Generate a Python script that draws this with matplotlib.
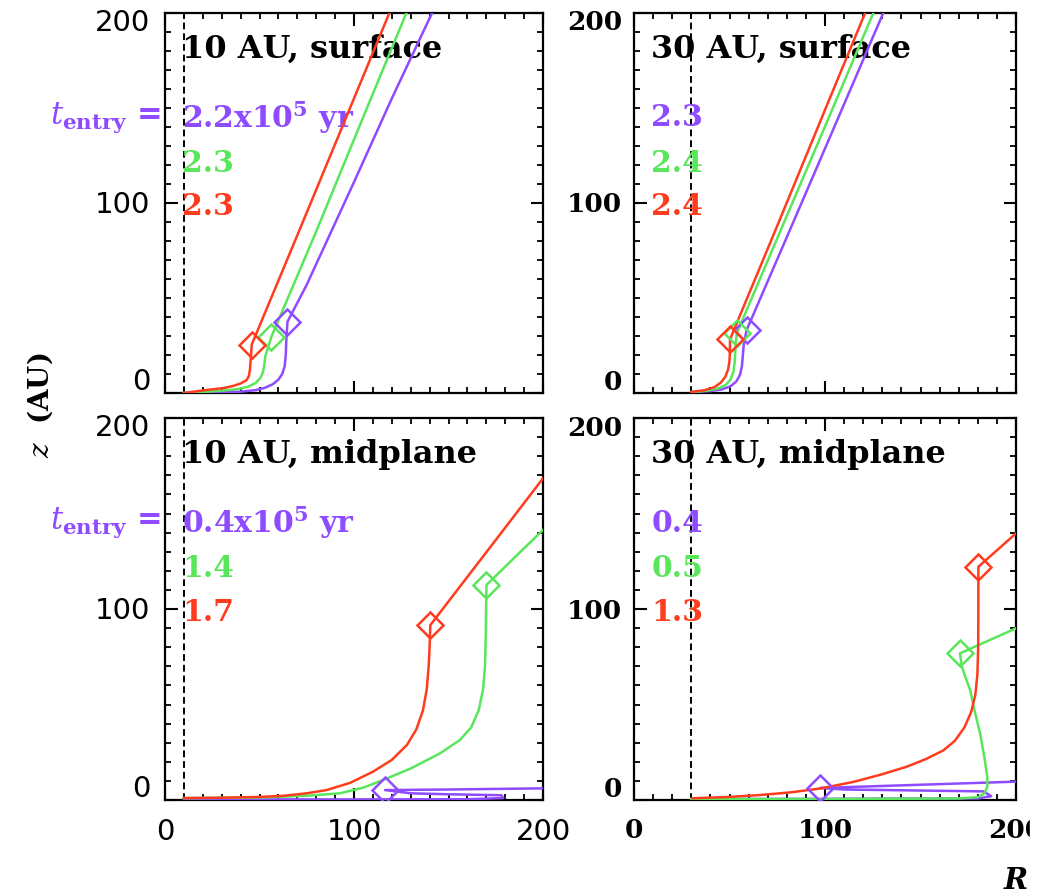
import matplotlib.pyplot as plt
from matplotlib.ticker import MultipleLocator
from matplotlib.transforms import ScaledTranslation, blended_transform_factory
from matplotlib.patches import Rectangle

plt.rcParams['mathtext.fontset'] = 'dejavuserif'

PURPLE = '#8f4bff'
GREEN = '#5ae65a'
RED = '#ff3c1e'

# ---- 10 AU, surface ----
p10s_disk_R = [10, 30, 40, 48, 53, 57, 60, 62, 63.3, 63.9, 64.2]
p10s_disk_z = [0, 0.3, 0.7, 1.5, 2.8, 4.6, 7, 10, 14, 20, 28]
p10s_env_R = [75, 100, 120, 141.3]
p10s_env_z = [57, 111, 155, 200]
g10s_disk_R = [10, 30, 38, 44, 48, 50.5, 51.8, 52.6, 53]
g10s_disk_z = [0, 1.2, 2, 3.3, 5.3, 8, 11, 15, 19]
g10s_env_R = [80, 105, 127.7]
g10s_env_z = [85, 145.5, 200]
r10s_disk_R = [10, 22, 31, 36, 40, 43.2, 44.4, 44.9, 45.3, 45.6]
r10s_disk_z = [0, 1.6, 2.6, 3.7, 5, 6.8, 9, 12, 17, 21]
r10s_env_R = [70, 95, 118.7]
r10s_env_z = [83, 143, 200]
entry10s_R = [64.8, 56.3, 45.9]
entry10s_z = [37.5, 29.6, 25.5]
t10s = ['2.2', '2.3', '2.3']

# ---- 30 AU, surface ----
p30s_disk_R = [30, 40, 46, 50.5, 53.5, 55.5, 56.5, 57, 57.5]
p30s_disk_z = [0.5, 1, 1.9, 3.5, 6, 9.5, 14, 20, 26]
p30s_env_R = [83, 107, 130.5]
p30s_env_z = [89, 145, 200]
g30s_disk_R = [30, 38, 44, 48, 50.5, 52, 52.7, 53]
g30s_disk_z = [0.5, 1.2, 2.4, 4.2, 7, 11, 16, 22]
g30s_env_R = [78, 102, 125.3]
g30s_env_z = [88.5, 145, 200]
r30s_disk_R = [30, 37, 42, 45.5, 47.8, 49.3, 50, 50.2]
r30s_disk_z = [0.5, 1.5, 3, 5.5, 8.5, 12.5, 17, 22]
r30s_env_R = [75, 100, 121]
r30s_env_z = [88, 149, 200]
entry30s_R = [59, 53.8, 50.3]
entry30s_z = [33.2, 31.4, 28.3]
t30s = ['2.3', '2.4', '2.4']

# ---- 10 AU, midplane ----
p10m_disk_R = [10, 100, 160, 179, 178, 150, 130]
p10m_disk_z = [0.3, 0.3, 0.4, 1, 2.5, 3, 3.5]
p10m_env_R = [150, 200]
p10m_env_z = [5.5, 6.1]
g10m_disk_R = [10, 50, 75, 92.6, 105, 115.5, 130, 145.5, 156, 162, 166,
               168.3, 169.3, 169.7, 169.9, 170]
g10m_disk_z = [1, 1.3, 2.2, 3.5, 6.5, 10.5, 16.5, 24.4, 31.4, 38, 47,
               58, 70, 85, 100, 107]
g10m_env_R = [185, 200]
g10m_env_z = [127, 141.4]
r10m_disk_R = [10, 30, 50, 62.6, 75, 85.5, 98, 110, 120, 128, 133, 136.5,
               138.5, 139.5, 140, 140.2]
r10m_disk_z = [1, 1.2, 1.6, 2.2, 3.5, 5.2, 9, 14.8, 21, 28.8, 37, 47,
               58, 70, 80, 86]
r10m_env_R = [170, 200]
r10m_env_z = [129.7, 168.4]
entry10m_R = [116.4, 170.1, 140.4]
entry10m_z = [5.2, 112.6, 91.6]
t10m = ['0.4', '1.4', '1.7']

# ---- 30 AU, midplane ----
p30m_disk_R = [30, 100, 180, 187, 183, 110]
p30m_disk_z = [0.5, 0.6, 0.8, 2, 4.5, 5.5]
p30m_env_R = [200]
p30m_env_z = [9.6]
g30m_disk_R = [30, 100, 170, 180, 183.5, 185, 185, 183.5, 181.2, 178.5,
               176, 174, 171.6]
g30m_disk_z = [0.5, 0.5, 0.8, 1.5, 3.5, 7, 12, 22, 34.9, 46, 57.6, 63, 70]
g30m_env_R = [200]
g30m_env_z = [89.9]
r30m_disk_R = [30.5, 50, 66, 82, 97.4, 115, 130, 143, 153, 162, 168, 173,
               176.5, 178.7, 179.8, 180.2, 180.3, 180.3]
r30m_disk_z = [0.9, 1.6, 2.6, 4, 6, 9.5, 13.5, 17.5, 21.5, 26, 31, 38,
               46, 55, 66, 80, 100, 112]
r30m_env_R = [200]
r30m_env_z = [139.6]
entry30m_R = [97.6, 170.7, 180.3]
entry30m_z = [6.3, 76.8, 122.1]
t30m = ['0.4', '0.5', '1.3']

yticks = [0, 100, 200]
xticks = [0, 100, 200]
ytick_shift = [11, -2, -10]   # px, keeps end labels inside the frame

W, H = 1048, 896
fig = plt.figure(figsize=(W / 100, H / 100), dpi=100)


def box(left, top, right, bottom):
    return [left / W, 1 - bottom / H, (right - left) / W, (bottom - top) / H]


panels = [
    dict(rect=box(165, 13, 543, 393), r0=10, title='10 AU, surface',
         paths=[(p10s_disk_R, p10s_disk_z, p10s_env_R, p10s_env_z),
                (g10s_disk_R, g10s_disk_z, g10s_env_R, g10s_env_z),
                (r10s_disk_R, r10s_disk_z, r10s_env_R, r10s_env_z)],
         eR=entry10s_R, ez=entry10s_z, t=t10s, left=True, bottom=False),
    dict(rect=box(634, 13, 1016, 393), r0=30, title='30 AU, surface',
         paths=[(p30s_disk_R, p30s_disk_z, p30s_env_R, p30s_env_z),
                (g30s_disk_R, g30s_disk_z, g30s_env_R, g30s_env_z),
                (r30s_disk_R, r30s_disk_z, r30s_env_R, r30s_env_z)],
         eR=entry30s_R, ez=entry30s_z, t=t30s, left=False, bottom=False),
    dict(rect=box(165, 418, 543, 800), r0=10, title='10 AU, midplane',
         paths=[(p10m_disk_R, p10m_disk_z, p10m_env_R, p10m_env_z),
                (g10m_disk_R, g10m_disk_z, g10m_env_R, g10m_env_z),
                (r10m_disk_R, r10m_disk_z, r10m_env_R, r10m_env_z)],
         eR=entry10m_R, ez=entry10m_z, t=t10m, left=True, bottom=True),
    dict(rect=box(634, 418, 1016, 800), r0=30, title='30 AU, midplane',
         paths=[(p30m_disk_R, p30m_disk_z, p30m_env_R, p30m_env_z),
                (g30m_disk_R, g30m_disk_z, g30m_env_R, g30m_env_z),
                (r30m_disk_R, r30m_disk_z, r30m_env_R, r30m_env_z)],
         eR=entry30m_R, ez=entry30m_z, t=t30m, left=False, bottom=True),
]

colors = [PURPLE, GREEN, RED]
label_z = [145, 121, 98]

for p in panels:
    ax = fig.add_axes(p['rect'])
    ax.set_xlim(0, 200)
    ax.set_ylim(0, 200)
    for sp in ax.spines.values():
        sp.set_linewidth(1.6)

    if p['left']:
        tick_font = dict(family='DejaVu Sans', size=21)
        ypad = 15
    else:
        tick_font = dict(family='DejaVu Serif', size=19, weight='bold')
        ypad = 12

    ax.xaxis.set_major_locator(MultipleLocator(100))
    ax.xaxis.set_minor_locator(MultipleLocator(10))
    ax.yaxis.set_major_locator(MultipleLocator(100))
    ax.yaxis.set_minor_locator(MultipleLocator(10))
    ax.tick_params(which='both', direction='in', top=True, right=True,
                   labelleft=False, labelbottom=p['bottom'], pad=13)
    ax.tick_params(which='major', length=9, width=1.5)
    ax.tick_params(which='minor', length=4.5, width=1.3)
    if p['bottom']:
        ax.set_xticks(xticks)
        ax.set_xticklabels([str(v) for v in xticks], fontdict=tick_font)

    # y tick labels, nudged the way the original axis prints them
    ytrans = blended_transform_factory(ax.transAxes, ax.transData)
    for v, dy in zip(yticks, ytick_shift):
        off = ScaledTranslation(-ypad / 100, dy / 100, fig.dpi_scale_trans)
        ax.text(0, v, str(v), transform=ytrans + off, ha='right',
                va='center', clip_on=False, **tick_font)

    ax.axvline(p['r0'], color='k', lw=1.4, ls=(0, (3.5, 2)), zorder=1)

    for (dR, dz, eR_, ez_), c, R_in, z_in in zip(p['paths'], colors,
                                                p['eR'], p['ez']):
        ax.plot(dR + [R_in] + eR_, dz + [z_in] + ez_, color=c, lw=1.8,
                zorder=3, solid_joinstyle='round')
    for R_in, z_in, c in zip(p['eR'], p['ez'], colors):
        ax.plot(R_in, z_in, 'D', mfc='none', mec=c, ms=13.5, mew=1.8,
                zorder=4)

    ax.text(0.045, 181, p['title'], transform=ytrans, ha='left',
            va='center', family='DejaVu Serif', weight='bold', size=23,
            zorder=2)

    for i, (s, c, zl) in enumerate(zip(p['t'], colors, label_z)):
        if i == 0 and p['left']:
            s = s + r'x10$^{\mathbf{5}}$ yr'
            ax.text(-0.01, zl, r'$t_{\mathbf{entry}}$ =', transform=ytrans,
                    ha='right', va='center', color=c, family='DejaVu Serif',
                    weight='bold', size=22, clip_on=False)
        ax.text(0.045, zl, s, transform=ytrans, ha='left', va='center',
                color=c, family='DejaVu Serif', weight='bold', size=21.5,
                zorder=2)

fig.text(40 / W, 1 - 405 / H, r'$z$  (AU)', rotation=90, ha='center',
         va='center', family='DejaVu Serif', weight='bold', size=20)
fig.text(1004 / W, 1 - 880 / H, 'R', ha='left', va='center',
         family='DejaVu Serif', weight='bold', style='italic', size=21)

# the plot ends a little short of the right edge
fig.patches.append(Rectangle((1030 / W, 0), 18 / W, 1,
                             transform=fig.transFigure, color='white',
                             zorder=10))

fig.savefig('out.png', dpi=100)
